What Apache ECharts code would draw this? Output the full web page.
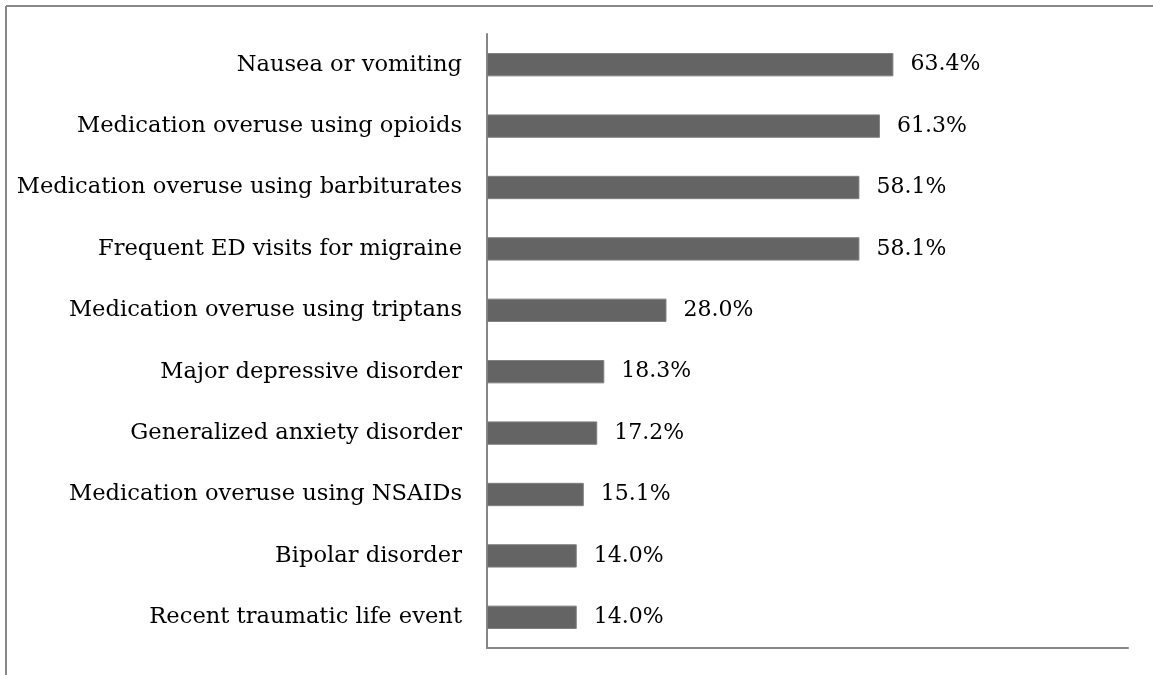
<!DOCTYPE html>
<html>
<head>
<meta charset="utf-8">
<script src="https://cdn.jsdelivr.net/npm/echarts@6/dist/echarts.min.js"></script>
<style>html,body{margin:0;padding:0;background:#fff}#c{width:1153px;height:675px}</style>
</head>
<body>
<div id="c"></div>
<script>
const categories = [
  "Nausea or vomiting",
  "Medication overuse using opioids",
  "Medication overuse using barbiturates",
  "Frequent ED visits for migraine",
  "Medication overuse using triptans",
  "Major depressive disorder",
  "Generalized anxiety disorder",
  "Medication overuse using NSAIDs",
  "Bipolar disorder",
  "Recent traumatic life event"
];
const values = [63.4, 61.3, 58.1, 58.1, 28.0, 18.3, 17.2, 15.1, 14.0, 14.0];

const FONT = "DejaVu Serif";
const chart = echarts.init(document.getElementById('c'), null, {renderer: 'canvas'});
chart.setOption({
  animation: false,
  backgroundColor: '#fff',
  graphic: [
    {type: 'line', shape: {x1: 6, y1: 6, x2: 1153, y2: 6}, style: {stroke: '#888', lineWidth: 2}},
    {type: 'line', shape: {x1: 6, y1: 6, x2: 6, y2: 675}, style: {stroke: '#888', lineWidth: 2}}
  ],
  grid: {left: 487, right: 25, top: 34, bottom: 27, containLabel: false},
  xAxis: {
    type: 'value', min: 0, max: 100,
    axisLine: {show: true, lineStyle: {color: '#868686', width: 2}},
    axisTick: {show: false}, axisLabel: {show: false}, splitLine: {show: false}
  },
  yAxis: {
    type: 'category', data: categories.slice().reverse(), inverse: false,
    axisLine: {show: true, lineStyle: {color: '#868686', width: 2}},
    axisTick: {show: false},
    axisLabel: {color: '#000', fontFamily: FONT, fontSize: 22.6, margin: 25}
  },
  series: [{
    type: 'bar',
    data: values.slice().reverse(),
    barCategoryGap: '62%',
    itemStyle: {color: '#646464', borderColor: '#7f7f7f', borderWidth: 1},
    label: {
      show: true, position: 'right', distance: 17,
      color: '#000', fontFamily: FONT, fontSize: 22,
      formatter: p => p.value.toFixed(1) + '%'
    }
  }]
});
</script>
</body>
</html>
